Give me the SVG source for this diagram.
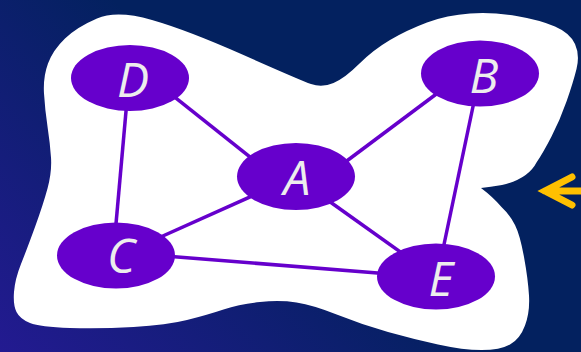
<svg xmlns="http://www.w3.org/2000/svg" width="581" height="352" viewBox="0 0 581 352">
<defs>
<linearGradient id="bg" gradientUnits="userSpaceOnUse" x1="0" y1="352" x2="230" y2="110">
<stop offset="0" stop-color="#231a91"/>
<stop offset="1" stop-color="#03215f"/>
</linearGradient>
<style>
.node ellipse{fill:#6600cc}
.node text{font-family:"Open Sans","Noto Sans","DejaVu Sans",sans-serif;font-style:italic;font-size:48px;fill:#ededed;text-anchor:middle}
#edges line{stroke:#6600cc;stroke-width:3.5}
</style>
</defs>
<rect width="581" height="352" fill="url(#bg)"/>
<path id="blob" fill="#ffffff" d="M97,18.5 Q117,10 152,20 Q187,30 243.5,55 Q300,80 311,84 Q322,88 333.5,83 Q345,78 359,64 Q373,50 390,40 Q407,30 427,22.5 Q447,15 470,13.5 Q493,12 516.5,16 Q540,20 555,26.5 Q570,33 575,44 Q580,55 576.5,69 Q573,83 566.5,101.5 Q560,120 551.5,136.5 Q543,153 536.5,162.5 Q528,179 502,185 Q490,187 481,188 Q493,197 501.5,207 Q510,215 515,225 Q520,235 524,257 Q528,279 529,295.5 Q530,312 525,325.5 Q520,339 510,344.5 Q500,350 481.5,350 Q463,350 438,344.5 Q413,339 388,332 Q363,325 338,315 Q313,305 296.5,302.5 Q280,300 260,302 Q240,304 223.5,309.5 Q207,315 187,320 Q167,325 133.5,327 Q100,329 70,328 Q40,327 30,323 Q20,319 16.5,312 Q13,305 14,292 Q15,279 21,264 Q27,249 35,227 Q43,205 47.5,188.5 Q52,172 51,157.5 Q50,143 47.5,126.5 Q45,110 44,93.5 Q43,77 48,63.5 Q53,50 65,38.5 Q77,27 97,18.5 Z"/>
<g id="edges">
<line x1="170" y1="93.4" x2="258" y2="163.4"/>
<line x1="127" y1="100" x2="115" y2="235"/>
<line x1="445" y1="87.5" x2="338" y2="167.5"/>
<line x1="475" y1="97" x2="442" y2="254"/>
<line x1="155" y1="239.5" x2="262" y2="191.6"/>
<line x1="325" y1="198.3" x2="408" y2="257.4"/>
<line x1="165" y1="256" x2="390" y2="274"/>
</g>
<g id="node-D" class="node"><ellipse cx="130" cy="78" rx="59" ry="33"/><text x="133" y="97">D</text></g>
<g id="node-B" class="node"><ellipse cx="480" cy="73.5" rx="59" ry="33"/><text x="484" y="93">B</text></g>
<g id="node-A" class="node"><ellipse cx="296" cy="176.5" rx="59" ry="33.5"/><text x="297" y="195">A</text></g>
<g id="node-C" class="node"><ellipse cx="116" cy="255.5" rx="59" ry="33"/><text x="121" y="273">C</text></g>
<g id="node-E" class="node"><ellipse cx="436" cy="276.5" rx="59" ry="33"/><text x="441" y="296">E</text></g>
<g id="arrow"><path d="M572,177 L545,191 L572,205 M545,191 L590,191" fill="none" stroke="#ffc000" stroke-width="7" stroke-linecap="round" stroke-linejoin="miter"/></g>
</svg>
